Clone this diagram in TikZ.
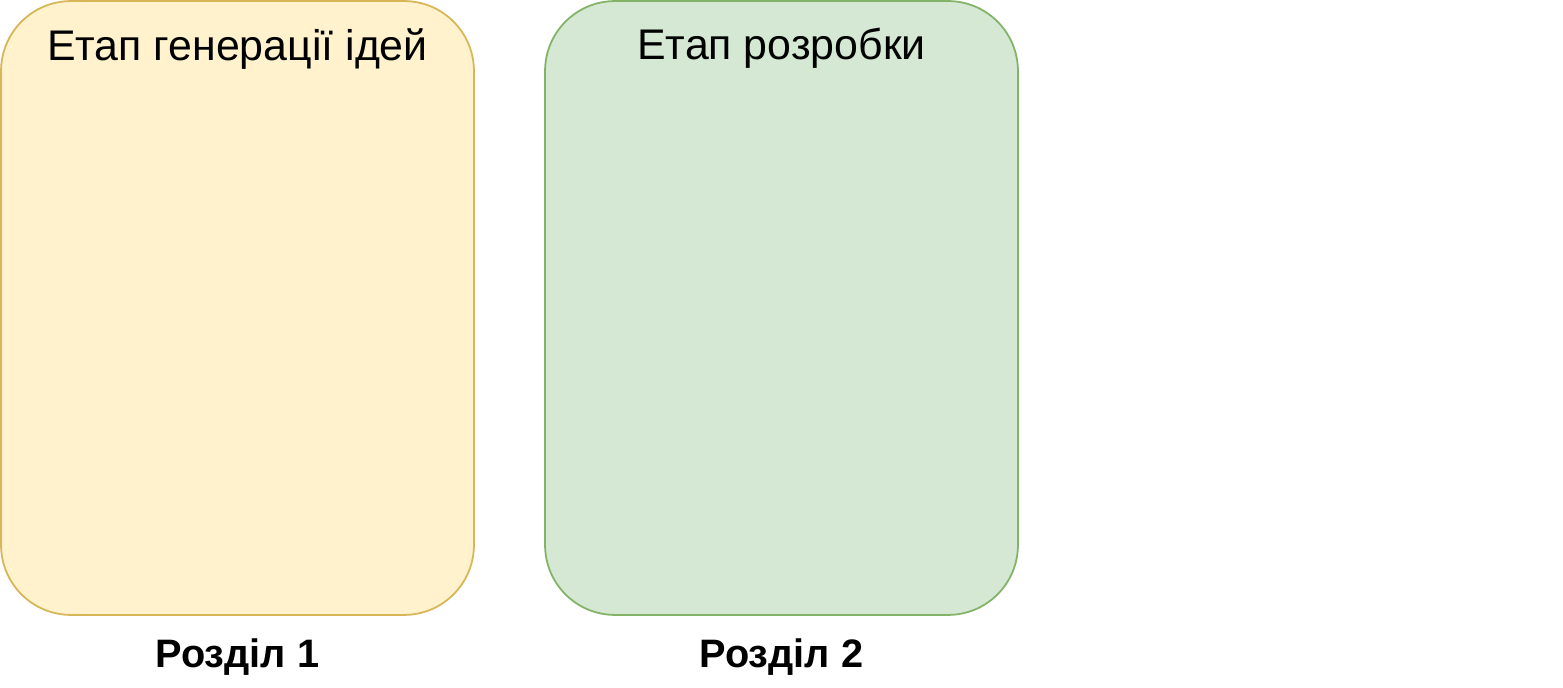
\documentclass[tikz,border=0pt]{standalone}
\usepackage{fontspec}
\setmainfont{Liberation Sans}
\usepackage{tikz}
\usetikzlibrary{positioning}
\definecolor{ideafill}{HTML}{FFF2CC}
\definecolor{ideadraw}{HTML}{D6B656}
\definecolor{devfill}{HTML}{D5E8D4}
\definecolor{devdraw}{HTML}{82B366}
\tikzset{stagebox/.style={rectangle, rounded corners=1.4cm, line width=1pt, minimum width=9.46cm, minimum height=12.28cm, inner sep=0pt},
stagetitle/.style={anchor=north, inner sep=0pt, font=\fontsize{24.4}{28}\selectfont},
sectionlabel/.style={inner sep=0pt, font=\fontsize{22.6}{26}\selectfont\bfseries},}

\begin{document}
\begin{tikzpicture}[x=0.02cm, y=-0.02cm, node distance=0.46cm]
\useasboundingbox (0,0) rectangle (1563,688);
\node [stagebox, draw=ideadraw, fill=ideafill] (ideas) at (237.5,308) {};
\node [stagebox, draw=devdraw, fill=devfill] (dev) at (781.5,308) {};
\node [stagetitle] (ideastitle) at ([yshift=-0.56cm]ideas.north) {Етап генерації ідей};
\node [stagetitle] (devtitle) at ([yshift=-0.56cm]dev.north) {Етап розробки};
\node [sectionlabel] (part1) [below=of ideas] {Розділ 1};
\node [sectionlabel] (part2) [below=of dev] {Розділ 2};
\end{tikzpicture}
\end{document}
